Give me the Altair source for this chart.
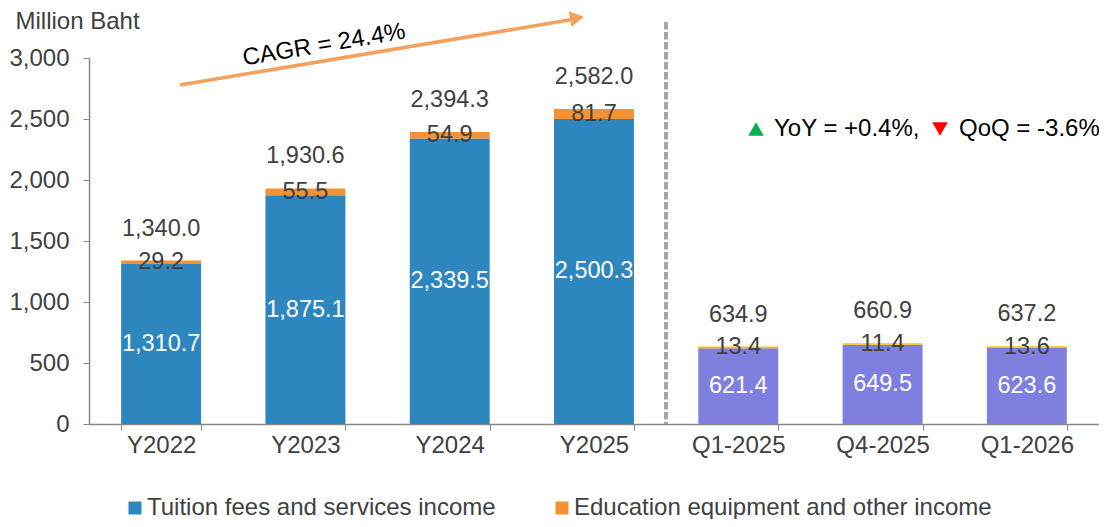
import altair as alt
import pandas as pd

categories = ["Y2022", "Y2023", "Y2024", "Y2025", "Q1-2025", "Q4-2025", "Q1-2026"]
tuition = [1310.7, 1875.1, 2339.5, 2500.3, 621.4, 649.5, 623.6]
other = [29.2, 55.5, 54.9, 81.7, 13.4, 11.4, 13.6]
totals = [1340.0, 1930.6, 2394.3, 2582.0, 634.9, 660.9, 637.2]
period = ["annual", "annual", "annual", "annual", "quarter", "quarter", "quarter"]

series_names = ["Tuition fees and services income", "Education equipment and other income"]
color_keys = series_names + ["Tuition (quarterly)", "Other (quarterly)"]
color_range = ["#2E86BE", "#F39232", "#7F7FE0", "#FFC000"]
y_ticks = [0, 500, 1000, 1500, 2000, 2500, 3000]

FONT = "Liberation Sans"
TXT = "#404040"
FS = 24
LFS = 23.5

rows = []
for c, t, o, p in zip(categories, tuition, other, period):
    rows.append({"category": c, "value": t, "order": 0,
                 "key": series_names[0] if p == "annual" else color_keys[2]})
    rows.append({"category": c, "value": o, "order": 1,
                 "key": series_names[1] if p == "annual" else color_keys[3]})
bars_df = pd.DataFrame(rows)
lab_df = pd.DataFrame({"category": categories, "tuition": tuition, "other": other, "total": totals})

xenc = alt.X("category:N", sort=categories, title=None,
             scale=alt.Scale(paddingInner=0.446, paddingOuter=0.223),
             axis=alt.Axis(labelAngle=0, tickBand="extent", tickSize=6, labelPadding=3,
                           domainColor="#888888", tickColor="#888888", domainWidth=1.5))

bars = alt.Chart(bars_df).mark_bar().encode(
    x=xenc,
    y=alt.Y("value:Q", stack="zero",
            scale=alt.Scale(domain=[0, 3000], nice=False),
            axis=alt.Axis(values=y_ticks, format=",.0f", tickSize=6, labelPadding=14, grid=False,
                          domainColor="#888888", tickColor="#888888", domainWidth=1.5,
                          title="Million Baht", titleAngle=0, titleX=-74, titleY=-37,
                          titleAlign="left", titleBaseline="middle", titleFont=FONT,
                          titleFontSize=FS, titleFontWeight="normal", titleColor=TXT)),
    color=alt.Color("key:N", scale=alt.Scale(domain=color_keys, range=color_range),
                    legend=alt.Legend(values=series_names, title=None, orient="none",
                                      direction="horizontal", legendX=34, legendY=438,
                                      symbolType="square", symbolSize=169, symbolStrokeWidth=0,
                                      labelFont=FONT, labelFontSize=FS, labelColor=TXT,
                                      labelOffset=0, columnPadding=54, labelLimit=600, padding=0)),
    order=alt.Order("order:Q"),
)

base_lab = alt.Chart(lab_df).encode(x=alt.X("category:N", sort=categories))

tuition_lab = base_lab.transform_calculate(mid="datum.tuition / 2").mark_text(
    font=FONT, fontSize=LFS, color="white", baseline="middle").encode(
    y="mid:Q", text=alt.Text("tuition:Q", format=",.1f"))

other_lab = base_lab.transform_calculate(mid="datum.tuition + datum.other / 2").mark_text(
    font=FONT, fontSize=LFS, color=TXT, baseline="middle").encode(
    y="mid:Q", text=alt.Text("other:Q", format=",.1f"))

total_lab = base_lab.mark_text(font=FONT, fontSize=LFS, color=TXT, baseline="middle", dy=-32).encode(
    y="total:Q", text=alt.Text("total:Q", format=",.1f"))

one = alt.Data(values=[{}])

divider = alt.Chart(one).mark_rule(color="#A6A6A6", strokeWidth=4, strokeDash=[7.5, 2.5]).encode(
    x=alt.value(577), y=alt.value(-36), y2=alt.value(366))

arrow_line = alt.Chart(one).mark_rule(color="#F4A15D", strokeWidth=3.5).encode(
    x=alt.value(91), y=alt.value(27), x2=alt.value(486), y2=alt.value(-39))
arrow_head = alt.Chart(one).mark_point(shape="triangle-right", filled=True, color="#F4A15D",
                                       size=260, angle=350.5, opacity=1).encode(
    x=alt.value(488), y=alt.value(-40))
cagr = alt.Chart(one).mark_text(font=FONT, fontSize=FS, color="black", angle=350.5,
                                align="center", baseline="middle").encode(
    x=alt.value(235), y=alt.value(-13), text=alt.value("CAGR = 24.4%"))

up_tri = alt.Chart(one).mark_point(shape="triangle-up", filled=True, color="#00B050",
                                   size=240, opacity=1).encode(x=alt.value(667), y=alt.value(71))
yoy = alt.Chart(one).mark_text(font=FONT, fontSize=FS, color="black", align="left",
                               baseline="middle").encode(
    x=alt.value(685), y=alt.value(71), text=alt.value("YoY = +0.4%,"))
down_tri = alt.Chart(one).mark_point(shape="triangle-down", filled=True, color="#FF0000",
                                     size=240, opacity=1).encode(x=alt.value(851), y=alt.value(71))
qoq = alt.Chart(one).mark_text(font=FONT, fontSize=FS, color="black", align="left",
                               baseline="middle").encode(
    x=alt.value(870), y=alt.value(71), text=alt.value("QoQ = -3.6%"))

chart = alt.layer(bars, tuition_lab, other_lab, total_lab, divider, arrow_line, arrow_head, cagr,
                  up_tri, yoy, down_tri, qoq).properties(
    width=1010, height=366,
    autosize=alt.AutoSizeParams(type="none"),
    padding={"left": 81, "top": 50, "right": 0, "bottom": 95},
).configure_view(strokeWidth=0).configure_axis(
    labelFont=FONT, labelFontSize=FS, labelColor=TXT,
)

chart.save("out.html", embed_options={"renderer": "svg", "actions": False})
